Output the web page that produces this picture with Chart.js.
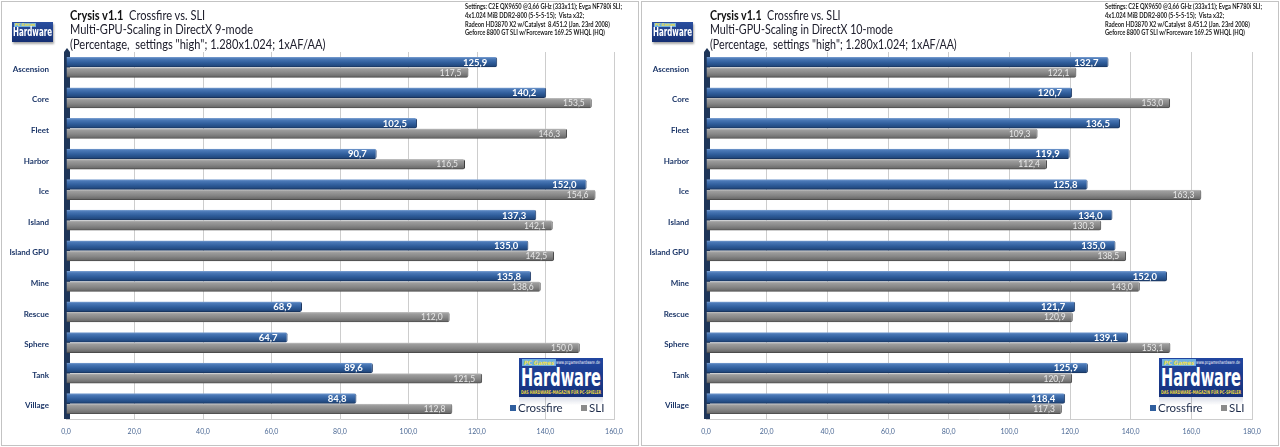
<!DOCTYPE html>
<html><head><meta charset="utf-8">
<script src="https://cdn.jsdelivr.net/npm/chart.js@4.4.0/dist/chart.umd.min.js"></script>
<style>
body{margin:0;width:1280px;height:447px;overflow:hidden;background:#fff;position:relative;font-family:Lato,'Liberation Sans',sans-serif}
.panel{position:absolute;top:0;width:640px;height:447px}
.frame{position:absolute;top:1px;height:445px;border:1px solid #c3c3c3;box-sizing:border-box}
canvas{position:absolute;left:0;top:0}
.fit{position:absolute;white-space:nowrap;transform-origin:0 0}
.title{left:70px;top:7.5px;color:#20202e;font-size:13px;line-height:14.8px}
.title b{color:#111}
.settings{left:465px;top:3px;color:#1a1a1a;font-size:6.5px;line-height:8.8px;font-weight:bold}
.slogo{position:absolute;left:12px;top:22px;width:41px;height:20px;background:linear-gradient(#2a4fa0,#142e72);box-shadow:1px 2px 2px rgba(0,0,0,.35);overflow:hidden}
.blogo{position:absolute;left:519px;top:358px;width:84px;height:39px;background:linear-gradient(#2146a0,#15307a);overflow:hidden}
.refl{position:absolute;left:519px;top:397px;width:84px;height:8px;background:linear-gradient(rgba(40,60,120,.18),rgba(255,255,255,0))}
.lg{font-family:'DejaVu Sans Condensed','DejaVu Sans',sans-serif}
.hw{color:#fff;font-weight:bold}
.pcg{position:absolute;background:#6fb0e0;color:#f4e04a;font-weight:bold;font-style:italic}
.leg{position:absolute;top:401px;font-size:11.5px;line-height:14px;color:#1d2b4a;white-space:nowrap}
.sq{display:inline-block;width:6px;height:6px;margin-right:2px;vertical-align:1px}
</style></head>
<body>
<div class="frame" style="left:1px;width:638px"></div>
<div class="frame" style="left:641px;width:638px"></div>

<div class="panel" id="p1" style="left:0">
  <canvas id="c1" width="640" height="447"></canvas>
  <div class="fit title" data-w="183" data-ref="1"><b>Crysis v1.1</b>&nbsp; Crossfire vs. SLI<br><span>Multi-GPU-Scaling in DirectX 9-mode</span><br>(Percentage,&nbsp; settings "high"; 1.280x1.024; 1xAF/AA)</div>
  <div class="fit settings" data-w="157" data-ref="0"><span>Settings: C2E QX9650 @3,66 GHz (333x11); Evga NF780i SLI;</span><br>4x1.024 MiB DDR2-800 (5-5-5-15);&nbsp; Vista x32;<br>Radeon HD3870 X2 w/Catalyst&nbsp; 8.451.2 (Jan. 23rd 2008)<br>Geforce 8800 GT SLI w/Forceware 169.25 WHQL (HQ)</div>
  <div class="slogo"><div class="pcg lg" style="left:2px;top:1px;font-size:4px;line-height:4px;padding:0 1px">PC Games</div><div class="fit lg hw" data-w="39" style="left:1px;top:4px;font-size:12px;line-height:13px">Hardware</div></div>
  <div class="blogo"><div class="pcg lg" style="left:3px;top:1px;font-size:6px;line-height:7px;padding:0 2px">PC Games</div><div class="fit lg" data-w="44" style="left:37px;top:2px;font-size:5px;line-height:5px;color:#fff">www.pcgameshardware.de</div><div class="fit lg hw" data-w="80" style="left:2px;top:7px;font-size:25px;line-height:26px">Hardware</div><div class="fit lg" data-w="80" style="left:2px;top:32px;font-size:5px;line-height:5px;color:#f0d840;font-weight:bold">DAS HARDWARE-MAGAZIN FÜR PC-SPIELER</div></div>
  <div class="refl"></div>
  <div class="leg" style="left:510px"><span class="sq" style="background:#2f5e9e"></span>Crossfire</div>
  <div class="leg" style="left:581px"><span class="sq" style="background:#8a8a8a"></span>SLI</div>
</div>

<div class="panel" id="p2" style="left:640px">
  <canvas id="c2" width="640" height="447"></canvas>
  <div class="fit title" data-w="183" data-ref="1"><b>Crysis v1.1</b>&nbsp; Crossfire vs. SLI<br><span>Multi-GPU-Scaling in DirectX 9-mode</span><br>(Percentage,&nbsp; settings "high"; 1.280x1.024; 1xAF/AA)</div>
  <div class="fit settings" data-w="157" data-ref="0"><span>Settings: C2E QX9650 @3,66 GHz (333x11); Evga NF780i SLI;</span><br>4x1.024 MiB DDR2-800 (5-5-5-15);&nbsp; Vista x32;<br>Radeon HD3870 X2 w/Catalyst&nbsp; 8.451.2 (Jan. 23rd 2008)<br>Geforce 8800 GT SLI w/Forceware 169.25 WHQL (HQ)</div>
  <div class="slogo"><div class="pcg lg" style="left:2px;top:1px;font-size:4px;line-height:4px;padding:0 1px">PC Games</div><div class="fit lg hw" data-w="39" style="left:1px;top:4px;font-size:12px;line-height:13px">Hardware</div></div>
  <div class="blogo"><div class="pcg lg" style="left:3px;top:1px;font-size:6px;line-height:7px;padding:0 2px">PC Games</div><div class="fit lg" data-w="44" style="left:37px;top:2px;font-size:5px;line-height:5px;color:#fff">www.pcgameshardware.de</div><div class="fit lg hw" data-w="80" style="left:2px;top:7px;font-size:25px;line-height:26px">Hardware</div><div class="fit lg" data-w="80" style="left:2px;top:32px;font-size:5px;line-height:5px;color:#f0d840;font-weight:bold">DAS HARDWARE-MAGAZIN FÜR PC-SPIELER</div></div>
  <div class="refl"></div>
  <div class="leg" style="left:510px"><span class="sq" style="background:#2f5e9e"></span>Crossfire</div>
  <div class="leg" style="left:581px"><span class="sq" style="background:#8a8a8a"></span>SLI</div>
</div>

<script>
const categories = ["Ascension","Core","Fleet","Harbor","Ice","Island","Island GPU","Mine","Rescue","Sphere","Tank","Village"];
const seriesNames = ["Crossfire","SLI"];
const dx9Crossfire = [125.9,140.2,102.5,90.7,152.0,137.3,135.0,135.8,68.9,64.7,89.6,84.8];
const dx9Sli       = [117.5,153.5,146.3,116.5,154.6,142.1,142.5,138.6,112.0,150.0,121.5,112.8];
const dx10Crossfire = [132.7,120.7,136.5,119.9,125.8,134.0,135.0,152.0,121.7,139.1,125.9,118.4];
const dx10Sli       = [122.1,153.0,109.3,112.4,163.3,130.3,138.5,143.0,120.9,153.1,120.7,117.3];
const dx9TickMax = 160;
const dx10TickMax = 180;
const tickStep = 20;

document.querySelector('#p2 .title span').textContent = 'Multi-GPU-Scaling in DirectX 10-mode';

Chart.defaults.font.family = "Lato, 'Liberation Sans', sans-serif";
const fmt = v => Number(v).toFixed(1).replace('.', ',');

const blueStops = [[0,'#7fa3d3'],[0.18,'#4a78b6'],[0.55,'#2f5d9b'],[0.85,'#234a80'],[1,'#142c52']];
const grayStops = [[0,'#c4c4c4'],[0.18,'#9c9c9c'],[0.55,'#868686'],[0.85,'#6e6e6e'],[1,'#3e3e3e']];
function barFill(stops){
  return (c) => {
    const el = c.element;
    if (!el || el.y == null || !isFinite(el.y) || !el.height) return stops[2][1];
    const top = el.y - el.height/2, bot = el.y + el.height/2;
    const g = c.chart.ctx.createLinearGradient(0, top, 0, bot);
    stops.forEach(([o,col]) => g.addColorStop(o,col));
    return g;
  };
}

const wallPlugin = {
  id:'wall',
  beforeDatasetsDraw(chart){
    const {ctx, chartArea:a} = chart;
    ctx.save();
    ctx.fillStyle = '#1e3558';
    ctx.fillRect(a.left-2, a.top, 6, a.bottom-a.top);
    ctx.beginPath();
    ctx.moveTo(a.left-2, a.top); ctx.lineTo(a.left+1, a.top-4); ctx.lineTo(a.left+4, a.top); ctx.closePath();
    ctx.fill();
    ctx.restore();
  }
};
const labelPlugin = {
  id:'valueLabels',
  afterDatasetsDraw(chart){
    const ctx = chart.ctx;
    chart.data.datasets.forEach((ds,i) => {
      chart.getDatasetMeta(i).data.forEach((el,j) => {
        ctx.save();
        ctx.font = i === 0 ? "bold 9.5px Lato, 'Liberation Sans', sans-serif" : "8.5px Lato, 'Liberation Sans', sans-serif";
        ctx.fillStyle = i === 0 ? '#ffffff' : '#e8e8e8';
        ctx.textAlign = 'right';
        ctx.textBaseline = 'middle';
        ctx.fillText(fmt(ds.data[j]), el.x - (i === 0 ? 10 : 7), el.y + 0.5);
        ctx.restore();
      });
    });
  }
};

function makeChart(id, cf, sli, max, padRight){
  const ch = new Chart(document.getElementById(id), {
    type:'bar',
    data:{
      labels: categories,
      datasets:[
        {label: seriesNames[0], data: cf, backgroundColor: barFill(blueStops), borderColor:'#1a3560', borderWidth:{right:1,top:0,bottom:0,left:0}, borderRadius:{topRight:2,bottomRight:2}, borderSkipped:'start'},
        {label: seriesNames[1], data: sli, backgroundColor: barFill(grayStops), borderColor:'#3a3a3a', borderWidth:{right:1,top:0,bottom:0,left:0}, borderRadius:{topRight:2,bottomRight:2}, borderSkipped:'start'}
      ]
    },
    options:{
      indexAxis:'y', responsive:false, animation:false,
      layout:{padding:{top:52,right:padRight,bottom:0,left:0}},
      plugins:{legend:{display:false}, tooltip:{enabled:false}},
      datasets:{bar:{categoryPercentage:0.68, barPercentage:1}},
      scales:{
        x:{min:0, max:max, ticks:{stepSize:tickStep, callback:v=>fmt(v), font:{size:7}, color:'#4b6894', padding:9, maxRotation:0, autoSkip:false},
           grid:{color:'#cdcdcd', drawTicks:false}, border:{display:true,color:'#cdcdcd'},
           afterFit:s=>{s.height = 28;}},
        y:{ticks:{font:{size:8, weight:'bold'}, color:'#1c3668', padding:9, labelOffset:2},
           grid:{display:false}, border:{display:false},
           afterFit:s=>{s.width = 66;}}
      }
    },
    plugins:[wallPlugin, labelPlugin]
  });
  ch.update();
  return ch;
}
makeChart('c1', dx9Crossfire, dx9Sli, dx9TickMax, 26);
makeChart('c2', dx10Crossfire, dx10Sli, dx10TickMax, 28);

function fitAll(){
  document.querySelectorAll('.fit').forEach(el => {
    el.style.transform = 'none';
    const ref = el.dataset.ref ? el.querySelector('span') : el;
    const w = (ref && el.dataset.ref) ? ref.getBoundingClientRect().width : el.getBoundingClientRect().width;
    const target = parseFloat(el.dataset.w);
    if (w > 0) el.style.transform = 'scaleX(' + (target / w) + ')';
  });
}
fitAll();
if (document.fonts && document.fonts.ready) document.fonts.ready.then(fitAll);
</script>
</body></html>
